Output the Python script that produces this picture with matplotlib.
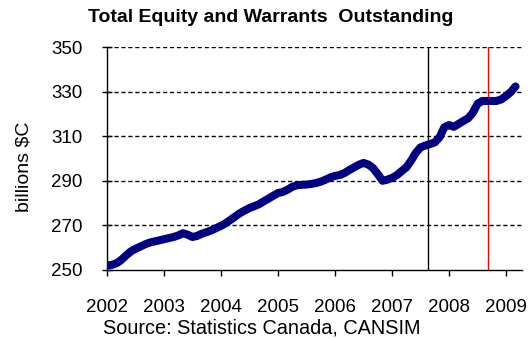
import matplotlib
matplotlib.use("Agg")
import matplotlib.pyplot as plt
import numpy as np

# monthly stock of equity and warrants, billions of C$, Jan 2002 onward
start_year = 2002
equity = [
    252.0, 252.3, 253.0, 254.5, 256.5, 258.3, 259.5, 260.5, 261.5, 262.3, 262.8, 263.3,  # 2002
    263.8, 264.3, 264.8, 265.5, 266.5, 265.8, 264.8, 265.3, 266.3, 267.0, 267.8, 268.8,  # 2003
    269.8, 271.0, 272.5, 274.0, 275.5, 276.7, 277.8, 278.6, 279.5, 280.8, 282.0, 283.3,  # 2004
    284.5, 285.0, 286.0, 287.3, 288.0, 288.2, 288.3, 288.6, 289.0, 289.6, 290.5, 291.5,  # 2005
    292.2, 292.6, 293.5, 294.8, 296.0, 297.2, 298.0, 297.3, 295.7, 293.0, 290.0, 290.5,  # 2006
    291.3, 292.5, 294.3, 296.0, 299.0, 302.5, 305.0, 305.8, 306.5, 307.2, 309.5, 314.0,  # 2007
    315.0, 314.2, 315.5, 316.8, 318.0, 320.5, 324.5, 325.8, 325.8, 325.8, 325.8, 326.5,  # 2008
    328.0, 329.8, 332.3,                                                                 # 2009
]
years = [2002, 2003, 2004, 2005, 2006, 2007, 2008, 2009]
yticks = [250, 270, 290, 310, 330, 350]
black_line = 2007.63   # August 2007
red_line = 2008.68     # September 2008

t = start_year + np.arange(len(equity)) / 12.0

plt.rcParams['font.family'] = ['Liberation Sans', 'DejaVu Sans']

fig = plt.figure(figsize=(5.32, 3.39), dpi=100)
ax = fig.add_axes([107 / 532, 1 - 270 / 339, 415 / 532, 223 / 339])

for y in yticks[1:]:
    ax.axhline(y, color='black', lw=1.0, ls=(0, (3, 2)), zorder=1)
ax.axvline(black_line, color='black', lw=1.0, zorder=2)
ax.axvline(red_line, color='red', lw=1.0, zorder=2)
ax.plot(t, equity, color='#000080', lw=5.8, solid_capstyle='round', zorder=3)

ax.set_xlim(2002, 2009.28)
ax.set_ylim(250, 350)
ax.set_xticks(years)
ax.set_yticks(yticks)
ax.tick_params(axis='x', direction='out', length=4, width=1, labelsize=13.5, pad=17)
ax.tick_params(axis='y', direction='inout', length=7, width=1, labelsize=13.5, pad=14)
for s in ['top', 'right']:
    ax.spines[s].set_visible(False)
for s in ['left', 'bottom']:
    ax.spines[s].set_linewidth(1.0)

fig.text(24 / 532, 1 - 167 / 339, 'billions $C', rotation=90,
         ha='center', va='center', fontsize=14)
fig.text(271 / 532, 1 - 17 / 339, 'Total Equity and Warrants  Outstanding',
         ha='center', va='center', fontsize=14, fontweight='bold')
fig.text(103 / 532, 1 - 328 / 339, 'Source: Statistics Canada, CANSIM',
         ha='left', va='center', fontsize=14.3)

fig.savefig('out.png', dpi=100)
